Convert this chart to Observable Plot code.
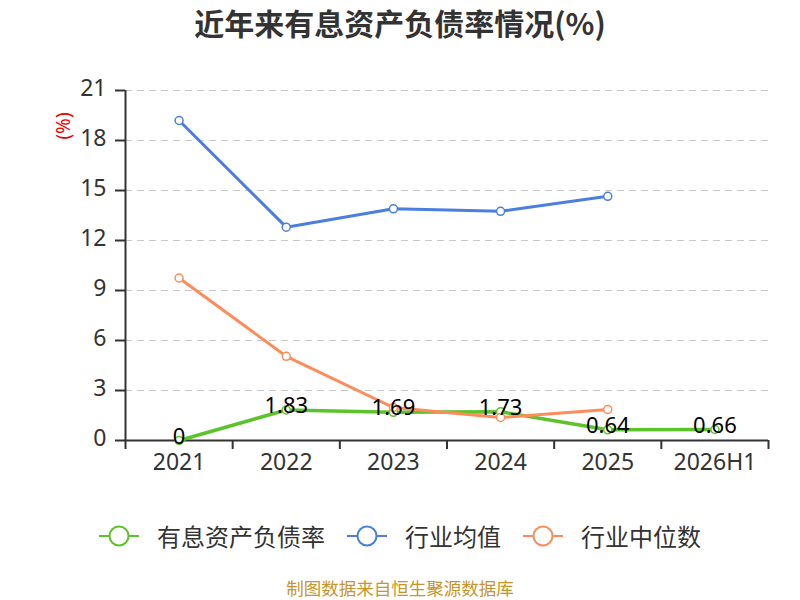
<!DOCTYPE html>
<html><head><meta charset="utf-8">
<script src="https://cdn.jsdelivr.net/npm/d3@7"></script>
<script src="https://cdn.jsdelivr.net/npm/@observablehq/plot@0.6"></script>
<style>
body{margin:0;background:#fff;font-family:"Noto Sans","Noto Sans CJK SC",sans-serif;}
#wrap{position:relative;width:800px;height:600px;overflow:hidden;}
#title{position:absolute;top:0;left:0;width:800px;line-height:44px;text-align:center;font-size:30px;font-weight:bold;color:#333;font-family:"Noto Sans CJK SC","Noto Sans",sans-serif;}
#chart{position:absolute;top:50px;left:0;}
#unit{position:absolute;left:49px;top:113px;color:#e00;font-size:19px;transform:rotate(-90deg);transform-origin:center;}
#legend{position:absolute;top:518px;left:0;width:800px;display:flex;justify-content:center;gap:22px;font-size:24px;color:#333;font-family:"Noto Sans CJK SC","Noto Sans",sans-serif;}
#legend .item{display:flex;align-items:center;gap:18px;}
#caption{position:absolute;top:578px;left:0;width:800px;line-height:20px;text-align:center;font-size:17.5px;color:#c8952a;font-family:"Noto Sans CJK SC","Noto Sans",sans-serif;}
</style></head>
<body>
<div id="wrap">
<div id="title">近年来有息资产负债率情况(%)</div>
<div id="chart"></div>
<div id="unit">(%)</div>
<div id="legend"></div>
<div id="caption">制图数据来自恒生聚源数据库</div>
</div>
<script>
const categories = ["2021","2022","2023","2024","2025","2026H1"];
const companyRate = [0, 1.83, 1.69, 1.73, 0.64, 0.66];
const industryMean = [19.2, 12.8, 13.9, 13.75, 14.65];
const industryMedian = [9.75, 5.05, 1.98, 1.38, 1.86];
const yTicks = [0, 3, 6, 9, 12, 15, 18, 21];
const seriesNames = ["有息资产负债率", "行业均值", "行业中位数"];
const colors = ["#5cc32b", "#4a7fe0", "#fe8c59"];

const idx = (d, i) => i;
const boundaries = d3.range(-0.5, categories.length, 1);

const chart = Plot.plot({
  width: 800,
  height: 440,
  marginTop: 40,
  marginBottom: 50,
  marginLeft: 125,
  marginRight: 32,
  style: {fontFamily: '"Noto Sans","Noto Sans CJK SC",sans-serif', color: "#333", background: "transparent", fontSize: "23px"},
  x: {domain: [-0.5, categories.length - 0.5], axis: null},
  y: {domain: [0, 21], axis: null},
  marks: [
    Plot.gridY(yTicks.filter(d => d > 0), {stroke: "#c8c8c8", strokeOpacity: 1, strokeWidth: 1.2, strokeDasharray: "7,5"}),
    Plot.axisY(yTicks, {tickSize: 10, tickFormat: () => "", stroke: "#333", strokeWidth: 2}),
    Plot.axisY(yTicks, {tickSize: 0, tickPadding: 19, fontSize: 23, dy: -2}),
    Plot.axisX(boundaries, {tickSize: 9, tickFormat: () => "", stroke: "#333", strokeWidth: 2}),
    Plot.axisX(d3.range(categories.length), {tickSize: 0, tickPadding: 13, fontSize: 23, tickFormat: i => categories[i]}),
    Plot.ruleX([-0.5], {stroke: "#333", strokeWidth: 2}),
    Plot.ruleY([0], {stroke: "#333", strokeWidth: 2}),
    Plot.line(companyRate, {x: idx, y: d => d, stroke: colors[0], strokeWidth: 3.5}),
    Plot.dot(companyRate, {x: idx, y: d => d, r: 4, fill: "white", stroke: colors[0], strokeWidth: 1.5}),
    Plot.line(industryMean, {x: idx, y: d => d, stroke: colors[1], strokeWidth: 3}),
    Plot.dot(industryMean, {x: idx, y: d => d, r: 4, fill: "white", stroke: colors[1], strokeWidth: 1.5}),
    Plot.line(industryMedian, {x: idx, y: d => d, stroke: colors[2], strokeWidth: 3}),
    Plot.dot(industryMedian, {x: idx, y: d => d, r: 4, fill: "white", stroke: colors[2], strokeWidth: 1.5}),
    Plot.text(companyRate, {x: idx, y: d => d, text: d => String(d), fontSize: 22, fill: "#000", lineAnchor: "middle", dy: -4})
  ]
});
document.getElementById("chart").appendChild(chart);

const legend = document.getElementById("legend");
seriesNames.forEach((name, i) => {
  const item = document.createElement("div");
  item.className = "item";
  item.innerHTML = `<svg width="40" height="24"><line x1="0" y1="12" x2="40" y2="12" stroke="${colors[i]}" stroke-width="2"/><circle cx="20" cy="12" r="9.5" fill="white" stroke="${colors[i]}" stroke-width="2"/></svg><span>${name}</span>`;
  legend.appendChild(item);
});
</script>
</body></html>
